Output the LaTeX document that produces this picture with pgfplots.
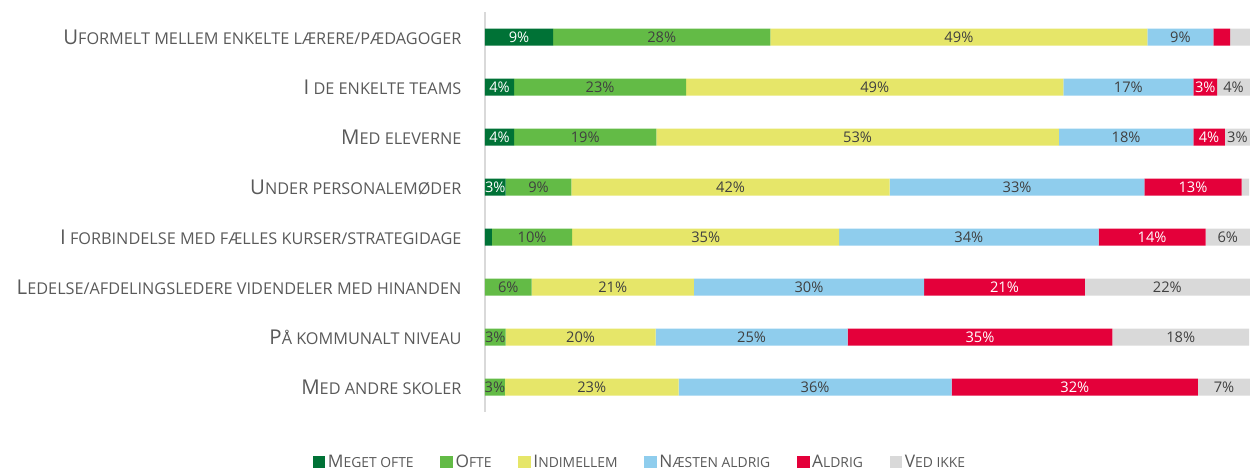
\documentclass[border=0pt]{standalone}
\usepackage{pgfplots}
\pgfplotsset{compat=1.18}
\usepackage{pgfplotstable}
\usepackage{fontspec}
\setmainfont{Open Sans}

\definecolor{cMO}{RGB}{0,114,54}
\definecolor{cO}{RGB}{99,187,70}
\definecolor{cI}{RGB}{230,230,105}
\definecolor{cNA}{RGB}{143,205,237}
\definecolor{cA}{RGB}{228,0,58}
\definecolor{cVI}{RGB}{217,217,217}
\definecolor{txt}{RGB}{89,89,89}
\definecolor{lab}{RGB}{64,64,64}

% fake small caps: big first letter, smaller rest
\newcommand{\smc}[2]{{\fontsize{15.3pt}{17pt}\selectfont #1}{\fontsize{12.2pt}{14pt}\selectfont #2}}
\newcommand{\lsmc}[2]{{\fontsize{13pt}{15pt}\selectfont #1}{\fontsize{10.4pt}{12pt}\selectfont #2}}

% y = row (1 = top)
\pgfplotstableread{
y v lab
1 8.9 9\%
2 3.8 4\%
3 3.8 4\%
4 2.7 3\%
5 0.9 {}
6 0 {}
7 0 {}
8 0 {}
}\meget
\pgfplotstableread{
y v lab
1 28.4 28\%
2 22.5 23\%
3 18.6 19\%
4 8.6 9\%
5 10.5 10\%
6 6.1 6\%
7 2.7 3\%
8 2.6 3\%
}\ofte
\pgfplotstableread{
y v lab
1 49.3 49\%
2 49.3 49\%
3 52.6 53\%
4 41.6 42\%
5 34.9 35\%
6 21.2 21\%
7 19.6 20\%
8 22.7 23\%
}\indimellem
\pgfplotstableread{
y v lab
1 8.6 9\%
2 17.0 17\%
3 17.6 18\%
4 33.3 33\%
5 33.9 34\%
6 30.1 30\%
7 25.1 25\%
8 35.7 36\%
}\naesten
\pgfplotstableread{
y v lab
1 2.2 {}
2 3.1 3\%
3 4.1 4\%
4 12.7 13\%
5 14.0 14\%
6 21.0 21\%
7 34.6 35\%
8 32.2 32\%
}\aldrig
\pgfplotstableread{
y v lab
1 2.6 {}
2 4.3 4\%
3 3.3 3\%
4 1.0 {}
5 5.8 6\%
6 21.6 22\%
7 17.9 18\%
8 6.8 7\%
}\vedikke

\begin{document}
\begin{tikzpicture}
\useasboundingbox (0,0) rectangle (937.5pt,351.75pt);
\begin{axis}[
    at={(363.75pt,42.75pt)}, anchor=south west,
    scale only axis, width=573.75pt, height=300pt,
    xbar stacked, bar width=12.75pt,
    xmin=0, xmax=100,
    ymin=0.5, ymax=8.5, y dir=reverse,
    axis x line=none,
    axis y line=left,
    axis line style={-, draw=black!15, line width=1pt},
    ytick={1,...,8},
    major tick length=0pt,
    yticklabel style={inner sep=0pt, text=txt, anchor=east, xshift=-17.5pt},
    yticklabels={
      \smc{U}{FORMELT MELLEM ENKELTE LÆRERE/PÆDAGOGER},
      \smc{I}{ DE ENKELTE TEAMS},
      \smc{M}{ED ELEVERNE},
      \smc{U}{NDER PERSONALEMØDER},
      \smc{I}{ FORBINDELSE MED FÆLLES KURSER/STRATEGIDAGE},
      \smc{L}{EDELSE/AFDELINGSLEDERE VIDENDELER MED HINANDEN},
      \smc{P}{Å KOMMUNALT NIVEAU},
      \smc{M}{ED ANDRE SKOLER}},
    point meta=explicit symbolic,
    nodes near coords,
    every node near coord/.append style={anchor=center, text=lab,
      font=\fontsize{11pt}{13pt}\selectfont},
    legend columns=6,
    legend style={at={(0.203,-0.125)}, anchor=center, draw=none,
      font=\color{txt}, inner sep=0pt,
      /tikz/every even column/.append style={column sep=18pt}},
    legend image code/.code={\fill[#1] (0pt,-4.7pt) rectangle (9.4pt,4.7pt);},
]
\addplot[fill=cMO, draw=none, every node near coord/.append style={text=white}]
  table[x=v, y=y, meta=lab] {\meget};
\addlegendentry{\lsmc{M}{EGET OFTE}}
\addplot[fill=cO, draw=none] table[x=v, y=y, meta=lab] {\ofte};
\addlegendentry{\lsmc{O}{FTE}}
\addplot[fill=cI, draw=none] table[x=v, y=y, meta=lab] {\indimellem};
\addlegendentry{\lsmc{I}{NDIMELLEM}}
\addplot[fill=cNA, draw=none] table[x=v, y=y, meta=lab] {\naesten};
\addlegendentry{\lsmc{N}{ÆSTEN ALDRIG}}
\addplot[fill=cA, draw=none, every node near coord/.append style={text=white}]
  table[x=v, y=y, meta=lab] {\aldrig};
\addlegendentry{\lsmc{A}{LDRIG}}
\addplot[fill=cVI, draw=none] table[x=v, y=y, meta=lab] {\vedikke};
\addlegendentry{\lsmc{V}{ED IKKE}}
\end{axis}
\end{tikzpicture}
\end{document}
